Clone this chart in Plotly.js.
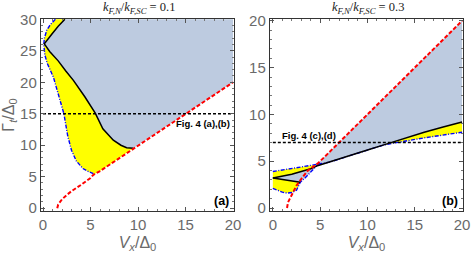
<!DOCTYPE html>
<html>
<head>
<meta charset="utf-8">
<script src="https://cdn.plot.ly/plotly-3.0.1.min.js"></script>
<style>html,body{margin:0;padding:0;background:#fff;}#plot{width:471px;height:255px;}</style>
</head>
<body>
<div id="plot"></div>
<script>
// ---------- Panel (a): kF,N/kF,SC = 0.1 ----------
const redAx = [1.5,1.6,1.8,2.0,2.5,3.0,4.0,5.0,5.3,6.0,7.0,8.0,9.5,12,15,20];
const redAy = [0,0.6,1.0,1.4,2.1,2.7,3.7,4.8,5.3,5.9,6.9,7.9,9.5,12,15,20];
const blackAx = [2.3,1.6,0.9,0.14,0.7,1.6,2.4,3.2,4.4,5.5,6.3,7.4,8.2,8.8,9.5];
const blackAy = [30,28.9,27.6,26.1,24.9,23.4,21.8,20.3,17.7,15.1,12.6,10.8,10.0,9.6,9.5];
const blueAx = [1.3,0.8,0.4,0.15,0.08,0.2,0.45,1.1,1.8,2.2,2.6,3.0,3.5,4.2,4.8,5.3];
const blueAy = [30,29.2,28.3,27.0,26.0,24.3,23.0,20.8,17.1,15.0,11.5,9.2,7.5,6.3,5.8,5.5];
const refLineA = 15;

// ---------- Panel (b): kF,N/kF,SC = 0.3 ----------
const redBx = [1.5,1.6,1.8,2.0,2.5,3.0,3.7,4.8,6.0,7.0,9.5,12,15,20];
const redBy = [0,0.6,1.0,1.4,2.4,3.1,4.0,4.8,6.0,7.0,9.4,12,15,20];
const blackBx = [0,1,2,3,4,4.8,6,8,10,11.9,14,16,18,20];
const blackBy = [3.2,3.4,3.6,3.9,4.2,4.55,4.95,5.6,6.2,6.8,7.5,8.1,8.65,9.2];
const blackLowBx = [0,1,2,2.9];
const blackLowBy = [3.2,3.05,2.9,2.75];
const blueUpBx = [0,1,2,3,4,4.8];
const blueUpBy = [3.9,4.05,4.2,4.4,4.55,4.7];
const blueLowBx = [0,0.5,1.0,1.5,2.0,2.5,2.9,3.4,3.9,4.4,4.8];
const blueLowBy = [2.1,1.9,1.7,1.6,1.65,1.9,2.75,3.2,3.7,4.3,4.7];
const blueRightBx = [4.8,6,8,10,11.6,13.4,16,20];
const blueRightBy = [4.7,4.9,5.55,6.15,6.7,7.05,7.5,8.1];
const refLineB = 7;

const xMax = 20, yMaxA = 30, yMaxB = 20;
const xTicks = [0,5,10,15,20];

const YELLOW = '#ffff00';
const STEEL = 'rgb(189,203,224)';
const rev = a => a.slice().reverse();
const between = (xs, ys, lo, hi) => {
  const X=[],Y=[]; xs.forEach((x,i)=>{ if(x>=lo && x<=hi){X.push(x);Y.push(ys[i]);} }); return [X,Y];
};

function fillTrace(x, y, color, xa, ya){
  return {x, y, type:'scatter', mode:'lines', fill:'toself', fillcolor:color,
          line:{width:0}, xaxis:xa, yaxis:ya, hoverinfo:'skip', showlegend:false};
}
function lineTrace(x, y, color, width, dash, xa, ya){
  return {x, y, type:'scatter', mode:'lines', line:{color, width, dash},
          xaxis:xa, yaxis:ya, hoverinfo:'skip', showlegend:false};
}
const RED_DASH = '4px,2px';
const BLK_DASH = '3px,2px';
const BLUE_DASH = '4px,1.5px,1px,1.5px';

const traces = [];
// ---- panel a fills
const [rAmidX, rAmidY] = between(redAx, redAy, 5.3, 9.5);
traces.push(fillTrace(
  blueAx.concat(rAmidX, rev(blackAx)),
  blueAy.concat(rAmidY, rev(blackAy)), YELLOW, 'x', 'y'));
const [rAhiX, rAhiY] = between(redAx, redAy, 9.6, xMax);
traces.push(fillTrace(
  blackAx.concat(rAhiX, [xMax]),
  blackAy.concat(rAhiY, [yMaxA]), STEEL, 'x', 'y'));
traces.push(lineTrace(blueAx, blueAy, '#0000ff', 1.4, BLUE_DASH, 'x', 'y'));
traces.push(lineTrace(blackAx, blackAy, '#000000', 1.5, 'solid', 'x', 'y'));
traces.push(lineTrace(redAx, redAy, '#ff0000', 2, RED_DASH, 'x', 'y'));
traces.push(lineTrace([0, xMax], [refLineA, refLineA], '#000000', 1.3, BLK_DASH, 'x', 'y'));

// ---- panel b fills
traces.push(fillTrace(blueUpBx.concat(rev(blueLowBx)), blueUpBy.concat(rev(blueLowBy)), YELLOW, 'x2', 'y2'));
const [bkLoX, bkLoY] = between(blackBx, blackBy, 0, 4.8);
const [blTailX, blTailY] = between(blueLowBx, blueLowBy, 2.9, 4.8);
traces.push(fillTrace(
  bkLoX.concat(rev(blTailX), rev(blackLowBx)),
  bkLoY.concat(rev(blTailY), rev(blackLowBy)), STEEL, 'x2', 'y2'));
const [bkHiX, bkHiY] = between(blackBx, blackBy, 4.8, xMax);
traces.push(fillTrace(bkHiX.concat(rev(blueRightBx)), bkHiY.concat(rev(blueRightBy)), YELLOW, 'x2', 'y2'));
const [rBhiX, rBhiY] = between(redBx, redBy, 4.8, xMax);
traces.push(fillTrace(rBhiX.concat(rev(bkHiX)), rBhiY.concat(rev(bkHiY)), STEEL, 'x2', 'y2'));
traces.push(lineTrace(blueUpBx, blueUpBy, '#0000ff', 1.4, BLUE_DASH, 'x2', 'y2'));
traces.push(lineTrace(blueLowBx, blueLowBy, '#0000ff', 1.4, BLUE_DASH, 'x2', 'y2'));
traces.push(lineTrace(blueRightBx, blueRightBy, '#0000ff', 1.4, BLUE_DASH, 'x2', 'y2'));
traces.push(lineTrace(blackBx, blackBy, '#000000', 1.5, 'solid', 'x2', 'y2'));
traces.push(lineTrace(blackLowBx, blackLowBy, '#000000', 1.5, 'solid', 'x2', 'y2'));
traces.push(lineTrace(redBx, redBy, '#ff0000', 2, RED_DASH, 'x2', 'y2'));
traces.push(lineTrace([0, xMax], [refLineB, refLineB], '#000000', 1.3, BLK_DASH, 'x2', 'y2'));

const tickFont = {family:'Liberation Sans, Arial, sans-serif', size:15, color:'#6a6a6a'};
const titleFont = {family:'Liberation Sans, Arial, sans-serif', size:16, color:'#6a6a6a'};
function axisBase(extra){
  return Object.assign({
    showline:true, mirror:'ticks', linecolor:'#333', linewidth:1.2,
    ticks:'inside', ticklen:4, tickwidth:1, tickcolor:'#555',
    minor:{ticks:'inside', ticklen:2, tickcolor:'#777', dtick:1},
    showgrid:false, zeroline:false, tickfont:tickFont, fixedrange:true
  }, extra);
}

const titleSerif = {family:'Liberation Serif, DejaVu Serif, serif', size:12.5, color:'#222'};
const layout = {
  width:471, height:255, margin:{l:0,r:0,t:0,b:0},
  paper_bgcolor:'#fff', plot_bgcolor:'#fff', showlegend:false,
  xaxis: axisBase({domain:[41/471, 234/471], range:[-0.21, 20.1], tickvals:xTicks, anchor:'y',
    title:{text:'<i>V</i><sub><i>x</i></sub>/Δ<sub>0</sub>', font:titleFont, standoff:4}}),
  yaxis: axisBase({domain:[44/255, 236/255], range:[-0.45, 30.05], dtick:5, anchor:'x',
    title:{text:'Γ<sub><i>t</i></sub>/Δ<sub>0</sub>', font:titleFont, standoff:2}}),
  xaxis2: axisBase({domain:[270/471, 463/471], range:[-0.3, 20.1], tickvals:xTicks, anchor:'y2',
    title:{text:'<i>V</i><sub><i>x</i></sub>/Δ<sub>0</sub>', font:titleFont, standoff:4}}),
  yaxis2: axisBase({domain:[44/255, 236/255], range:[-0.32, 20.2], dtick:5, anchor:'x2'}),
  annotations:[
    {text:'<i>k</i><sub><i>F,N</i></sub>/<i>k</i><sub><i>F,SC</i></sub> = 0.1', xref:'paper', yref:'paper',
     x:139/471, y:1-8/255, xanchor:'center', yanchor:'middle', showarrow:false, font:titleSerif},
    {text:'<i>k</i><sub><i>F,N</i></sub>/<i>k</i><sub><i>F,SC</i></sub> = 0.3', xref:'paper', yref:'paper',
     x:368/471, y:1-8/255, xanchor:'center', yanchor:'middle', showarrow:false, font:titleSerif},
    {text:'<b>Fig. 4 (a),(b)</b>', xref:'x', yref:'y', x:19.9, y:13.4, xanchor:'right', yanchor:'middle',
     showarrow:false, font:{family:'Liberation Sans, Arial, sans-serif', size:9.5, color:'#000'}},
    {text:'<b>Fig. 4 (c),(d)</b>', xref:'x2', yref:'y2', x:0.8, y:7.8, xanchor:'left', yanchor:'middle',
     showarrow:false, font:{family:'Liberation Sans, Arial, sans-serif', size:9.5, color:'#000'}},
    {text:'<b>(a)</b>', xref:'x', yref:'y', x:18.8, y:1.1, xanchor:'center', yanchor:'middle',
     showarrow:false, font:{family:'Liberation Sans, Arial, sans-serif', size:12.5, color:'#000'}},
    {text:'<b>(b)</b>', xref:'x2', yref:'y2', x:18.7, y:0.75, xanchor:'center', yanchor:'middle',
     showarrow:false, font:{family:'Liberation Sans, Arial, sans-serif', size:12.5, color:'#000'}}
  ]
};

Plotly.newPlot('plot', traces, layout, {staticPlot:true, displayModeBar:false});
</script>
</body>
</html>
